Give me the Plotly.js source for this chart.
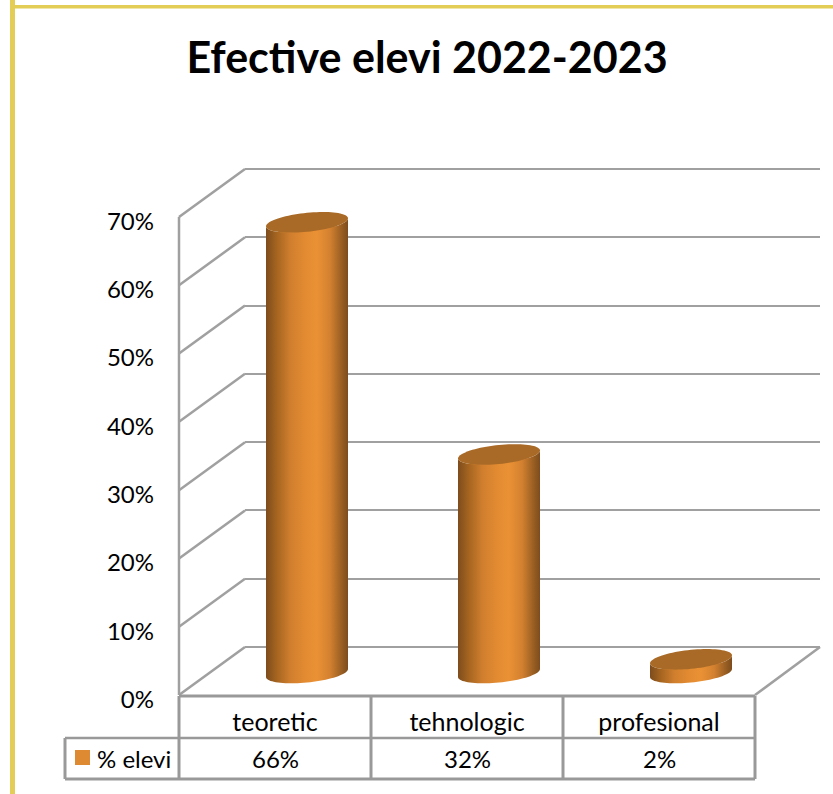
<!DOCTYPE html>
<html>
<head>
<meta charset="utf-8">
<script src="https://cdn.plot.ly/plotly-3.0.1.min.js"></script>
<style>html,body{margin:0;padding:0;background:#fff;overflow:hidden}</style>
</head>
<body>
<div id="chart" style="width:833px;height:794px"></div>
<script>
const categories = ['teoretic', 'tehnologic', 'profesional'];
const seriesName = '% elevi';
const values = [0.66, 0.32, 0.02];
const yTicks = [0, 0.1, 0.2, 0.3, 0.4, 0.5, 0.6, 0.7];
const yLabels = ['0%', '10%', '20%', '30%', '40%', '50%', '60%', '70%'];
const titleText = 'Efective elevi 2022-2023';

const W = 833, H = 794;
const px = x => x / W, py = y => 1 - y / H;
const FONT = 'Lato, "Open Sans", sans-serif';
const GRID = '#a0a0a0', TABLE = '#999999', BORDER = '#e3cd57';
const pxPerUnit = 478 / 0.7, pxPerCat = 192;
const idx = categories.map((_, i) => i);
const floorPad = 0.03;

const axisBase = {showgrid:false, zeroline:false, showline:false, ticks:'', fixedrange:true};
const shade = [[0,'#7d4c1d'],[0.12,'#a2631f'],[0.3,'#d17f2e'],[0.5,'#e48c32'],[0.62,'#ea9135'],[0.78,'#d38130'],[0.92,'#9a5f23'],[1,'#7d4c1d']];

function lowerArc(c, level, reverse) {
  const hw = 41 / pxPerCat, ry = 9.5 / pxPerUnit, tilt = 4 / pxPerUnit;
  const xs = [], ys = [];
  for (let k = 0; k <= 40; k++) {
    const th = Math.PI + Math.PI * (reverse ? 40 - k : k) / 40;
    xs.push(c + hw * Math.cos(th));
    ys.push(level + ry * Math.sin(th) + tilt * Math.cos(th));
  }
  return {xs, ys};
}
function fullEllipse(c, level) {
  const hw = 41 / pxPerCat, ry = 9.5 / pxPerUnit, tilt = 4 / pxPerUnit;
  const xs = [], ys = [];
  for (let k = 0; k <= 80; k++) {
    const th = 2 * Math.PI * k / 80;
    xs.push(c + hw * Math.cos(th));
    ys.push(level + ry * Math.sin(th) + tilt * Math.cos(th));
  }
  return {xs, ys};
}

const traces = [];
traces.push({type:'scatter', x:[0], y:[0], xaxis:'x', yaxis:'y', mode:'none', showlegend:false, hoverinfo:'skip'});
traces.push({type:'scatter', x:[0], y:[0], xaxis:'x2', yaxis:'y2', mode:'none', showlegend:false, hoverinfo:'skip'});
traces.push({type:'bar', name:seriesName, x:idx, y:values, xaxis:'x3', yaxis:'y3', width:0.3,
  marker:{color:'#dd8a33'}, showlegend:false, hoverinfo:'skip'});
values.forEach((v, i) => {
  const a = lowerArc(i, 0, false), b = lowerArc(i, v, true);
  traces.push({type:'scatter', mode:'none', x:a.xs.concat(b.xs), y:a.ys.concat(b.ys), xaxis:'x3', yaxis:'y3',
    fill:'toself', fillgradient:{type:'horizontal', colorscale:shade}, showlegend:false, hoverinfo:'skip'});
  const e = fullEllipse(i, v);
  traces.push({type:'scatter', mode:'none', x:e.xs, y:e.ys, xaxis:'x3', yaxis:'y3',
    fill:'toself', fillcolor:'#a96a27', showlegend:false, hoverinfo:'skip'});
});

const line = (x0, y0, x1, y1, color, width) => ({type:'line', xref:'paper', yref:'paper', layer:'below',
  x0:px(x0), y0:py(y0), x1:px(x1), y1:py(y1), line:{color, width}});

const shapes = [];
yTicks.forEach(t => {
  const y = 695 - t * pxPerUnit;
  shapes.push(line(179, y, 245, y - 48, GRID, 2.5));
});
shapes.push(line(245, 169, 820, 169, GRID, 2));
shapes.push(line(245, 647, 820, 647, GRID, 2));
shapes.push(line(179, 217, 179, 695, GRID, 2.5));
shapes.push(line(755, 695, 820, 647, GRID, 2.5));
shapes.push(line(179, 696, 755, 696, TABLE, 3));
shapes.push(line(65, 738, 755, 738, TABLE, 2.5));
shapes.push(line(65, 779, 755, 779, TABLE, 3));
shapes.push(line(65, 738, 65, 779, TABLE, 3));
[179, 371, 563, 755].forEach(x => shapes.push(line(x, 696, x, 779, TABLE, 3)));
shapes.push({type:'rect', xref:'paper', yref:'paper', x0:px(75), x1:px(90), y0:py(765), y1:py(750), fillcolor:'#dd8a33', line:{width:0}});
shapes.push({type:'rect', xref:'paper', yref:'paper', layer:'below', x0:px(10), x1:px(15), y0:0, y1:1, fillcolor:BORDER, line:{width:0}});
shapes.push({type:'rect', xref:'paper', yref:'paper', layer:'below', x0:px(10), x1:1, y0:py(8.5), y1:py(5), fillcolor:BORDER, line:{width:0}});

const annotations = values.map((v, i) => ({
  xref:'x2', yref:'paper', x:i, y:py(758.5), text:Math.round(v * 100) + '%', showarrow:false,
  xanchor:'center', yanchor:'middle', font:{family:FONT, size:24, color:'#000'}
}));
annotations.push({xref:'paper', yref:'paper', x:px(95), y:py(758.5), text:seriesName, showarrow:false,
  xanchor:'left', yanchor:'middle', font:{family:FONT, size:24, color:'#000'}});

const layout = {
  width:W, height:H, margin:{l:0,r:0,t:0,b:0}, paper_bgcolor:'#fff', plot_bgcolor:'rgba(0,0,0,0)',
  showlegend:false, barmode:'overlay',
  title:{text:'<b>'+titleText+'</b>', x:px(427), xanchor:'center', y:py(58), yanchor:'middle', font:{family:FONT, size:43, color:'#000'}},
  xaxis:Object.assign({}, axisBase, {domain:[px(245),px(820)], range:[-0.5,2.5], anchor:'y', showticklabels:false}),
  yaxis:Object.assign({}, axisBase, {domain:[py(647),py(169)], range:[0,0.7], anchor:'x', showticklabels:false,
    showgrid:true, gridcolor:GRID, gridwidth:2, tickvals:yTicks}),
  xaxis2:Object.assign({}, axisBase, {domain:[px(179),px(755)], range:[-0.5,2.5], anchor:'free', position:py(695),
    tickvals:idx, ticktext:categories, tickfont:{family:FONT, size:25, color:'#000'}, ticklabelstandoff:10}),
  yaxis2:Object.assign({}, axisBase, {domain:[py(699.5),py(221.5)], range:[0,0.7], anchor:'x2',
    tickvals:yTicks, ticktext:yLabels, tickfont:{family:FONT, size:24, color:'#000'}, ticklabelstandoff:24}),
  xaxis3:Object.assign({}, axisBase, {domain:[px(211),px(787)], range:[-0.5,2.5], anchor:'y3', showticklabels:false}),
  yaxis3:Object.assign({}, axisBase, {domain:[py(673 + floorPad * pxPerUnit),py(195)], range:[-floorPad,0.7], anchor:'x3', showticklabels:false}),
  shapes, annotations
};
Plotly.newPlot('chart', traces, layout, {displayModeBar:false, staticPlot:true});
</script>
</body>
</html>
